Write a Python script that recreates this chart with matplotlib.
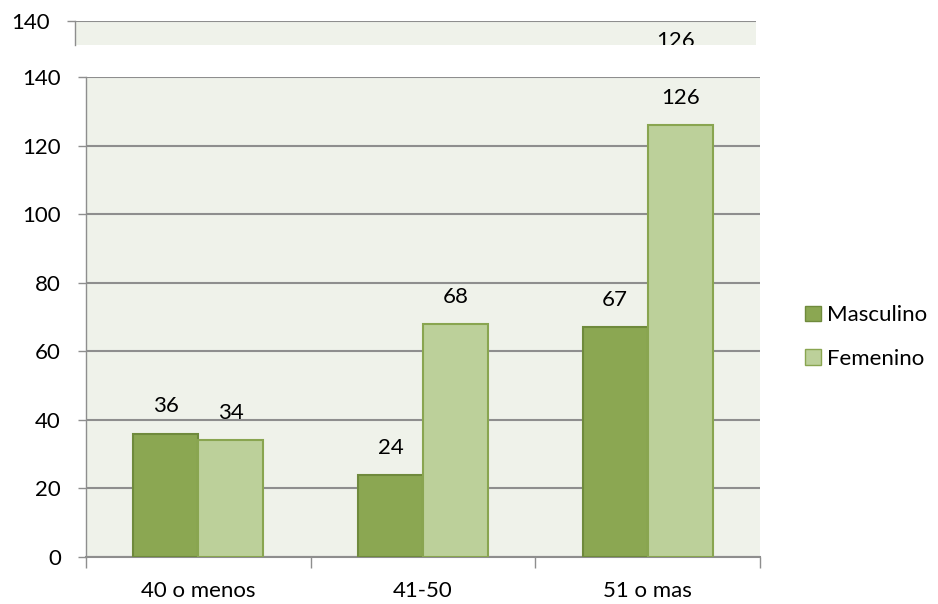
import matplotlib.pyplot as plt
import numpy as np
from matplotlib.patches import Patch

plt.rcParams['font.family'] = ['Lato', 'DejaVu Sans']

# data
categories = ['40 o menos', '41-50', '51 o mas']
series_names = ['Masculino', 'Femenino']
masculino = [36, 24, 67]
femenino = [34, 68, 126]
y_ticks = [0, 20, 40, 60, 80, 100, 120, 140]

fill_m, edge_m = '#8ba752', '#6f8a3c'
fill_f, edge_f = '#bcd09a', '#89a550'
bg = '#eff2ea'
grid_c = '#8e8e8e'
fs = 16

fig = plt.figure(figsize=(9.38, 6.04), dpi=100)
W, H = 938, 604


def px_axes(l, t, r, b):
    return fig.add_axes([l / W, 1 - b / H, (r - l) / W, (b - t) / H])


def draw(ax, ymin, clip=False):
    x = np.arange(len(categories))
    w = 0.289
    ax.set_facecolor(bg)
    b1 = ax.bar(x - w / 2, masculino, w, color=fill_m, edgecolor=edge_m, linewidth=1.5, zorder=3)
    b2 = ax.bar(x + w / 2, femenino, w, color=fill_f, edgecolor=edge_f, linewidth=1.5, zorder=3)
    for bars in (b1, b2):
        for r in bars:
            ax.annotate(str(int(r.get_height())), (r.get_x() + r.get_width() / 2, r.get_height()),
                        xytext=(0, 19.5), textcoords='offset points', ha='center', va='center',
                        fontsize=fs, zorder=4, annotation_clip=False, clip_on=clip)
    ax.set_xlim(-0.5, 2.5)
    ax.set_yticks(y_ticks)
    ax.set_ylim(ymin, 140)
    ax.yaxis.grid(True, color=grid_c, linewidth=1.5, zorder=1)
    ax.tick_params(axis='y', length=6, width=1, color=grid_c, labelsize=fs, pad=12)
    for s in ['top', 'right']:
        ax.spines[s].set_visible(False)
    ax.spines['left'].set_color(grid_c)
    ax.spines['bottom'].set_color(grid_c)
    ax.spines['left'].set_linewidth(1)
    ax.spines['bottom'].set_linewidth(1.5)


# stray strip at the very top (copied chart top)
strip = px_axes(75, 21, 756, 45)
draw(strip, 132.8, clip=True)
strip.spines['bottom'].set_visible(False)
strip.set_xticks([])
strip.tick_params(axis='y', pad=12)

# main chart
ax = px_axes(86, 77, 760, 557)
draw(ax, 0)
ax.set_xticks([-0.5, 0.5, 1.5, 2.5], minor=False)
ax.set_xticklabels([])
ax.tick_params(axis='x', length=8, width=1, color=grid_c)
ax.set_xticks(np.arange(len(categories)), minor=True)
ax.set_xticklabels(categories, minor=True)
ax.tick_params(axis='x', which='minor', length=0, labelsize=fs, pad=17)

handles = [Patch(facecolor=fill_m, edgecolor=edge_m), Patch(facecolor=fill_f, edgecolor=edge_f)]
fig.legend(handles, series_names, loc='center left', bbox_to_anchor=(794 / W, 1 - 337 / H),
           frameon=False, fontsize=fs, handlelength=0.7, handleheight=0.7,
           handletextpad=0.3, labelspacing=1.05, borderpad=0)

fig.savefig('out.png', dpi=100)
